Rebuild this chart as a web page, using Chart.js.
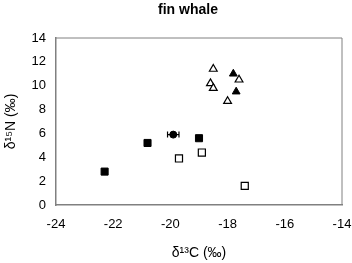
<!DOCTYPE html>
<html><head><meta charset="utf-8">
<script src="https://cdn.jsdelivr.net/npm/chart.js@4"></script>
<style>html,body{margin:0;padding:0;background:#fff}#w{width:352px;height:263px}</style>
</head><body><div id="w"><canvas id="c"></canvas></div>
<script>
const chartTitle = 'fin whale';
const filledSqX = [-22.3, -20.8, -19.0];
const filledSqY = [2.8, 5.2, 5.6];
const openSqX = [-19.7, -18.9, -17.4];
const openSqY = [3.9, 4.4, 1.6];
const openTriX = [-18.5, -18.6, -18.5, -17.6, -18.0];
const openTriY = [11.4, 10.2, 9.8, 10.5, 8.7];
const filledTriX = [-17.8, -17.7];
const filledTriY = [11.0, 9.5];
const circleX = [-19.9];
const circleY = [5.9];
const circleXErr = [0.2];
const xTicks = [-24, -22, -20, -18, -16, -14];
const yTicks = [0, 2, 4, 6, 8, 10, 12, 14];

const pts = (xs, ys) => xs.map((x, i) => ({x, y: ys[i]}));
const FONT = 'Liberation Sans, Arial, sans-serif';

const errPlugin = {
  id: 'errbars',
  afterDatasetsDraw(chart) {
    const ctx = chart.ctx, xs = chart.scales.x, ys = chart.scales.y;
    ctx.save();
    ctx.strokeStyle = '#000'; ctx.lineWidth = 1.2;
    circleX.forEach((x, i) => {
      const y = ys.getPixelForValue(circleY[i]);
      const x0 = xs.getPixelForValue(x - circleXErr[i]);
      const x1 = xs.getPixelForValue(x + circleXErr[i]);
      ctx.beginPath();
      ctx.moveTo(x0, y); ctx.lineTo(x1, y);
      ctx.moveTo(x0, y - 3); ctx.lineTo(x0, y + 3);
      ctx.moveTo(x1, y - 3); ctx.lineTo(x1, y + 3);
      ctx.stroke();
    });
    ctx.restore();
  }
};

const titlePlugin = {
  id: 'ttl',
  afterDraw(chart) {
    const ctx = chart.ctx;
    ctx.save();
    ctx.fillStyle = '#000';
    ctx.font = 'bold 14px ' + FONT;
    ctx.textAlign = 'center'; ctx.textBaseline = 'middle';
    ctx.fillText(chartTitle, 188, 10);
    ctx.restore();
  }
};

new Chart(document.getElementById('c'), {
  type: 'scatter',
  data: {
    datasets: [
      {data: pts(filledSqX, filledSqY), pointStyle: 'rect', pointRadius: 5, backgroundColor: '#000', borderColor: '#000', borderWidth: 1},
      {data: pts(openSqX, openSqY), pointStyle: 'rect', pointRadius: 5, backgroundColor: '#fff', borderColor: '#000', borderWidth: 1.2},
      {data: pts(openTriX, openTriY), pointStyle: 'triangle', pointRadius: 4.5, backgroundColor: '#fff', borderColor: '#000', borderWidth: 1.2},
      {data: pts(filledTriX, filledTriY), pointStyle: 'triangle', pointRadius: 4.5, backgroundColor: '#000', borderColor: '#000', borderWidth: 1},
      {data: pts(circleX, circleY), pointStyle: 'circle', pointRadius: 3.5, backgroundColor: '#000', borderColor: '#000', borderWidth: 1}
    ]
  },
  options: {
    responsive: true, maintainAspectRatio: false, animation: false,
    layout: {padding: {left: 0, right: 0, top: 38, bottom: 0}},
    plugins: {legend: {display: false}, tooltip: {enabled: false}, title: {display: false}},
    scales: {
      x: {
        type: 'linear', min: -24, max: -14,
        afterBuildTicks: s => { s.ticks = xTicks.map(v => ({value: v})); },
        afterFit: s => { s.height = 58; s.paddingRight = 10; s.paddingLeft = 0; },
        grid: {display: false, drawOnChartArea: false, drawTicks: true, tickLength: 5, color: '#808080'},
        border: {display: true, color: '#808080', width: 1.5},
        ticks: {color: '#000', font: {family: FONT, size: 13}, padding: 7, maxRotation: 0},
        title: {display: true, text: 'δ¹³C (‰)', color: '#000', font: {family: FONT, size: 14}, padding: {top: 4, bottom: 1}}
      },
      y: {
        type: 'linear', min: 0, max: 14,
        afterBuildTicks: s => { s.ticks = yTicks.map(v => ({value: v})); },
        afterFit: s => { s.width = 56; },
        grid: {display: false, drawOnChartArea: false, drawTicks: true, tickLength: 5, color: '#808080'},
        border: {display: true, color: '#808080', width: 1.5},
        ticks: {color: '#000', font: {family: FONT, size: 13}, padding: 5},
        title: {display: true, text: 'δ¹⁵N (‰)', color: '#000', font: {family: FONT, size: 14}, padding: {top: 3, bottom: 4}}
      }
    }
  },
  plugins: [errPlugin, titlePlugin, {
    id: 'frame',
    afterDraw(chart) {
      const {ctx, chartArea: a} = chart;
      ctx.save(); ctx.strokeStyle = '#808080'; ctx.lineWidth = 1;
      ctx.beginPath();
      ctx.moveTo(a.left, a.top); ctx.lineTo(a.right, a.top); ctx.lineTo(a.right, a.bottom);
      ctx.stroke(); ctx.restore();
    }
  }]
});
</script></body></html>
